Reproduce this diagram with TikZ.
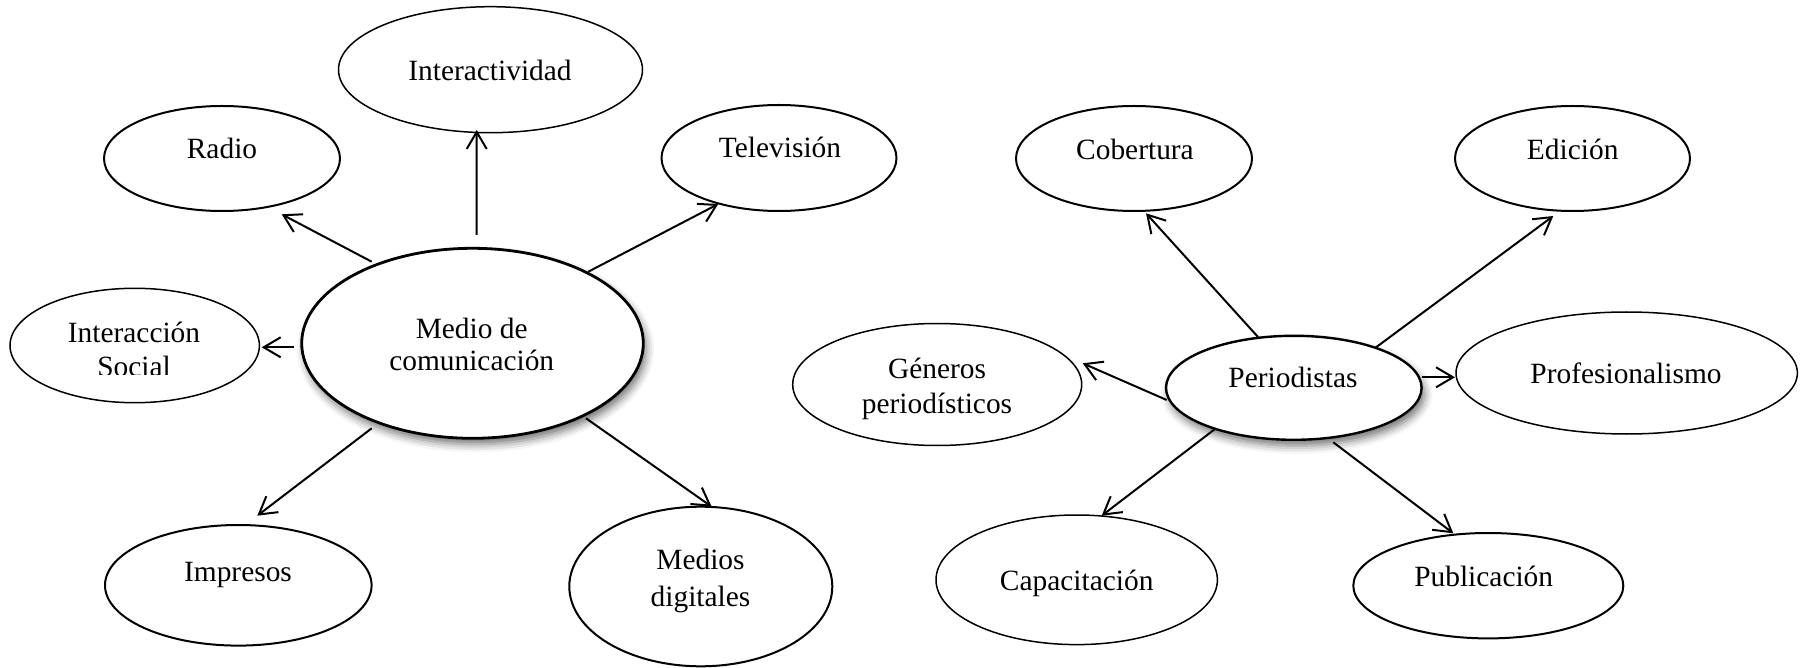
\documentclass[tikz,border=0pt]{standalone}
\usepackage{fontspec}
\setmainfont{Liberation Serif}
\usetikzlibrary{shapes.geometric,arrows.meta,shadows.blur}
\begin{document}
\begin{tikzpicture}[x=0.5pt,y=-0.5pt,
  el/.style 2 args={draw, ellipse, fill=white, inner sep=0pt, minimum width=#1pt, minimum height=#2pt, line width=1pt},
  thinel/.style={line width=0.75pt},
  mainel/.style={line width=1.4pt, blur shadow={shadow xshift=1.5pt, shadow yshift=-3pt, shadow blur radius=4pt, shadow opacity=55}},
  lbl/.style={anchor=base, align=center, inner sep=0pt, font=\fontsize{14.7}{17}\selectfont},
  arr/.style={-{Straight Barb[length=8.5pt,width=10pt]}, line width=1pt}]
\useasboundingbox (0,0) rectangle (1805,668);

% left group
\node[el={152}{63}, thinel] (int) at (490.5,69.7) {};
\node[el={118}{52.5}] (rad) at (222,158.5) {};
\node[el={117.5}{53}] (tel) at (779,158) {};
\node[el={124.7}{57.2}, thinel] (isoc) at (134.7,345.5) {};
\node[el={170.8}{95}, mainel] (med) at (472.5,343.3) {};
\node[el={133.3}{60.3}] (imp) at (238.3,585.3) {};
\node[el={131.5}{79.8}] (dig) at (700.8,586.5) {};

\node[lbl] (intl) at (490,81) {Interactividad};
\node[lbl] (radl) at (222,159) {Radio};
\node[lbl] (tell) at (780,158) {Televisión};
\begin{scope}
  \clip (0,250) rectangle (300,374.7);
  \node[lbl, font=\fontsize{14.7}{17}\selectfont] (isocl) at (134,376.7) {Interacción\\Social};
\end{scope}
\node[lbl, font=\fontsize{14.7}{16}\selectfont] (medl) at (471.7,370.3) {Medio de\\comunicación};
\node[lbl] (impl) at (238,581.3) {Impresos};
\node[lbl, font=\fontsize{14.7}{18.8}\selectfont] (digl) at (700.5,606.6) {Medios\\digitales};

% right group
\node[el={118}{52.5}] (cob) at (1134,158.5) {};
\node[el={117.5}{52.5}] (edi) at (1572.5,158.5) {};
\node[el={144.5}{61}, thinel] (gen) at (937.2,384.5) {};
\node[el={127.8}{52}, mainel, line width=1.2pt] (per) at (1293.8,387.8) {};
\node[el={170.7}{61}, thinel] (pro) at (1626.7,373) {};
\node[el={140.7}{64.8}, thinel] (cap) at (1076.7,579.8) {};
\node[el={135}{52.7}] (pub) at (1488.3,585.7) {};

\node[lbl] (cobl) at (1135,159.3) {Cobertura};
\node[lbl] (edil) at (1572.7,159.3) {Edición};
\node[lbl, font=\fontsize{14.7}{17.2}\selectfont] (genl) at (937,413.4) {Géneros\\periodísticos};
\node[lbl] (perl) at (1293,387.3) {Periodistas};
\node[lbl] (prol) at (1626,384) {Profesionalismo};
\node[lbl] (capl) at (1076.7,590) {Capacitación};
\node[lbl] (publ) at (1483.7,586.3) {Publicación};

% connectors from Medio de comunicación
\draw[arr] ([shift={(4.2,-108.3)}]med.center) -- ([shift={(-13.8,60.3)}]int.center);
\draw[arr] ([shift={(-100.8,-81.6)}]med.center) -- ([shift={(59.7,55.8)}]rad.center);
\draw[arr] ([shift={(115.8,-71.6)}]med.center) -- ([shift={(-60.7,46)}]tel.center);
\draw[arr] ([shift={(-178.5,4)}]med.center) -- ([shift={(127,1.8)}]isoc.center);
\draw[arr] ([shift={(-100.8,85)}]med.center) -- ([shift={(19,-69.6)}]imp.center);
\draw[arr] ([shift={(113.5,75)}]med.center) -- ([shift={(10.9,-79.8)}]dig.center);

% connectors from Periodistas
\draw[arr] ([shift={(-35.8,-50.8)}]per.center) -- ([shift={(12,54.8)}]cob.center);
\draw[arr] ([shift={(81.7,-40.1)}]per.center) -- ([shift={(-19.2,57.5)}]edi.center);
\draw[arr] ([shift={(-127.1,12.2)}]per.center) -- ([shift={(145.5,-21.2)}]gen.center);
\draw[arr] ([shift={(127.9,-10.5)}]per.center) -- ([shift={(-171.7,4.3)}]pro.center);
\draw[arr] ([shift={(-78.8,41.2)}]per.center) -- ([shift={(25,-64.1)}]cap.center);
\draw[arr] ([shift={(39.5,54.5)}]per.center) -- ([shift={(-35,-52.4)}]pub.center);
\end{tikzpicture}
\end{document}
